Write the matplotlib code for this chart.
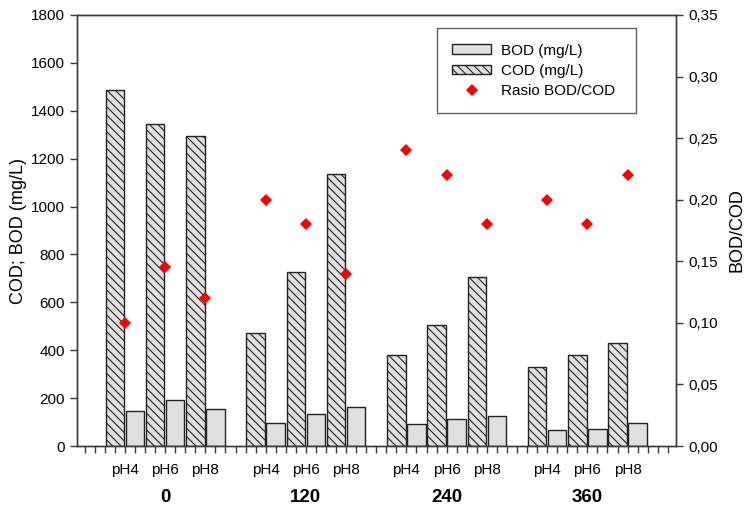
import matplotlib
matplotlib.use("Agg")
import matplotlib.pyplot as plt
import numpy as np
from matplotlib.patches import Patch
from matplotlib.lines import Line2D
from matplotlib.ticker import FuncFormatter

plt.rcParams['font.family'] = ['Liberation Sans', 'DejaVu Sans']
plt.rcParams['hatch.linewidth'] = 0.8

# Data: time groups, pH treatments, COD/BOD in mg/L and BOD/COD ratio
waktu = ['0', '120', '240', '360']
ph = ['pH4', 'pH6', 'pH8']
cod = [1485, 1345, 1295, 473, 725, 1137, 379, 507, 706, 330, 379, 429]
bod = [147, 192, 156, 95, 132, 162, 90, 111, 127, 66, 70, 95]
rasio = [0.10, 0.145, 0.12, 0.20, 0.18, 0.14, 0.24, 0.22, 0.18, 0.20, 0.18, 0.22]

warna_garis = '#3a3a3a'
warna_isi = '#e0e0e0'

# Slot positions: each group has 6 bars (COD, BOD pairs) plus one empty slot
x_cod = np.array([1 + 7 * g + 2 * i for g in range(len(waktu)) for i in range(len(ph))], dtype=float)
x_bod = x_cod + 1
x_tengah = x_cod + 0.5

fig = plt.figure(figsize=(7.46, 5.08), dpi=100)
ax = fig.add_axes([0.1036, 0.122, 0.8026, 0.8485])

lebar = 0.92
ax.bar(x_cod, cod, width=lebar, color=warna_isi, edgecolor='#222222',
       linewidth=1.0, hatch='\\\\\\\\', zorder=2)
ax.bar(x_bod, bod, width=lebar, color=warna_isi, edgecolor='#222222',
       linewidth=1.0, zorder=2)

ax.set_xlim(-0.87, 28.91)
ax.set_ylim(0, 1800)
ax.set_yticks(np.arange(0, 1801, 200))
ax.set_xticks(np.arange(-0.5, 28.51, 0.5))
ax.set_xticklabels([])

for s in ax.spines.values():
    s.set_color(warna_garis)
    s.set_linewidth(1.0)

ax.tick_params(axis='y', direction='out', length=5, width=1, color=warna_garis,
               labelsize=11, pad=4)
ax.tick_params(axis='x', direction='out', length=5, width=1, color=warna_garis)

ax.set_ylabel('COD; BOD (mg/L)', fontsize=13)
ax.yaxis.set_label_coords(-0.084, 0.5)

# pH labels under each COD/BOD pair and time labels under each group
trans = ax.get_xaxis_transform()
for k, xm in enumerate(x_tengah):
    ax.text(xm, -0.0557, ph[k % 3], transform=trans, ha='center', va='center',
            fontsize=11)
for g, w in enumerate(waktu):
    ax.text(x_tengah[3 * g + 1], -0.12, w, transform=trans, ha='center',
            va='center', fontsize=13.5, fontweight='bold')

# BOD/COD ratio on the right axis
ax2 = ax.twinx()
ax2.plot(x_tengah, rasio, linestyle='none', marker='D', markersize=6.3,
         color='red', markeredgewidth=0, zorder=3)
ax2.set_ylim(0, 0.35)
ax2.set_yticks(np.arange(0, 0.351, 0.05))
ax2.yaxis.set_major_formatter(FuncFormatter(lambda v, p: f"{v:.2f}".replace('.', ',')))
for s in ax2.spines.values():
    s.set_color(warna_garis)
    s.set_linewidth(1.0)
ax2.tick_params(axis='y', direction='out', length=5, width=1, color=warna_garis,
                labelsize=11, pad=4)
ax2.set_ylabel('BOD/COD', fontsize=13)
ax2.yaxis.set_label_coords(1.087, 0.5)

# Legend
uchwyty = [
    Patch(facecolor=warna_isi, edgecolor='#222222', linewidth=1.0, label='BOD (mg/L)'),
    Patch(facecolor=warna_isi, edgecolor='#222222', linewidth=1.0, hatch='\\\\\\\\', label='COD (mg/L)'),
    Line2D([], [], linestyle='none', marker='D', markersize=6.3, color='red',
           markeredgewidth=0, label='Rasio BOD/COD'),
]
leg = ax2.legend(handles=uchwyty, loc='upper left',
                 bbox_to_anchor=(0.601, 0.77, 0.332, 0.199), mode='expand',
                 fontsize=11, frameon=True, fancybox=False, edgecolor=warna_garis,
                 borderpad=1.0, labelspacing=0.4, handlelength=2.5,
                 handleheight=0.6, handletextpad=0.65, borderaxespad=0)
leg.get_frame().set_linewidth(1.0)

fig.savefig('out.png', dpi=100)
